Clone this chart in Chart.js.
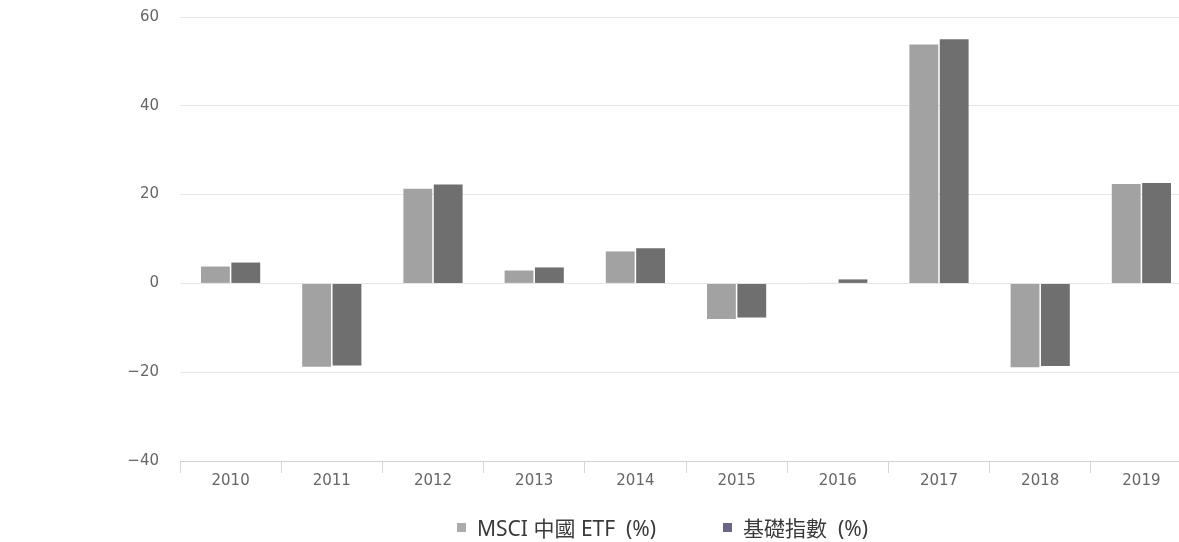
<!DOCTYPE html>
<html>
<head>
<meta charset="utf-8">
<script src="https://cdn.jsdelivr.net/npm/chart.js@4"></script>
<style>
  html, body { margin: 0; padding: 0; background: #fff; overflow: hidden; }
  #wrap { position: relative; width: 1192px; height: 542px; }
  #legend {
    position: absolute; left: 457px; top: 512px;
    display: flex; align-items: center;
    font-family: "Noto Sans", "Noto Sans CJK TC", sans-serif;
    font-size: 21px; color: #3a3a3a; white-space: pre;
  }
  .item { display: flex; align-items: center; }
  .sw { width: 9px; height: 9px; margin-right: 11px; }
</style>
</head>
<body>
<div id="wrap">
  <canvas id="grafico"></canvas>
  <div id="legend"></div>
</div>
<script>
// dados
const anos = ["2010", "2011", "2012", "2013", "2014", "2015", "2016", "2017", "2018", "2019"];
const etf = [3.8, -18.8, 21.3, 2.9, 7.2, -8.0, 0.1, 53.8, -18.9, 22.4];
const indice = [4.7, -18.5, 22.3, 3.6, 7.9, -7.7, 0.9, 55.0, -18.6, 22.6];
const nomes = ["MSCI 中國 ETF  (%)", "基礎指數  (%)"];
const coresBarras = ["#a2a2a2", "#6f6f6f"];
const coresLegenda = ["#ababab", "#6a6688"];
const ticksY = [-40, -20, 0, 20, 40, 60];

const fonteTicks = { family: "'DejaVu Sans'", size: 15 };

// legenda em html
const leg = document.getElementById('legend');
nomes.forEach(function(nome, i) {
  const item = document.createElement('div');
  item.className = 'item';
  if (i > 0) item.style.marginLeft = '67px';
  item.innerHTML = '<span class="sw" style="background:' + coresLegenda[i] + '"></span><span>' + nome + '</span>';
  leg.appendChild(item);
});

const ctx = document.getElementById('grafico').getContext('2d');
new Chart(ctx, {
  type: 'bar',
  data: {
    labels: anos,
    datasets: [
      { label: nomes[0], data: etf, backgroundColor: coresBarras[0] },
      { label: nomes[1], data: indice, backgroundColor: coresBarras[1] }
    ]
  },
  options: {
    responsive: true,
    maintainAspectRatio: false,
    animation: false,
    layout: { padding: { top: 17, bottom: 53, left: 0, right: 0 } },
    datasets: { bar: { categoryPercentage: 0.6, barPercentage: 0.95 } },
    plugins: {
      legend: { display: false },
      tooltip: { enabled: false }
    },
    scales: {
      x: {
        offset: true,
        grid: { display: true, drawOnChartArea: false, offset: true, tickLength: 12, color: '#d6d6d6' },
        border: { color: '#d0d0d0' },
        ticks: { color: '#666', font: fonteTicks, padding: -1 }
      },
      y: {
        min: -40,
        max: 60,
        afterBuildTicks: function(scale) {
          scale.ticks = ticksY.map(function(v) { return { value: v }; });
        },
        afterFit: function(scale) {
          scale.width = 180;
          // o padding dos ticks não deve empurrar a área do gráfico
          scale.paddingTop = 0;
          scale.paddingBottom = 0;
        },
        grid: { color: '#e6e6e6', drawTicks: false },
        border: { display: false },
        ticks: {
          color: '#666', font: fonteTicks, padding: 21,
          callback: function(v) { return String(v).replace('-', '\u2212'); }
        }
      }
    }
  }
});
</script>
</body>
</html>
